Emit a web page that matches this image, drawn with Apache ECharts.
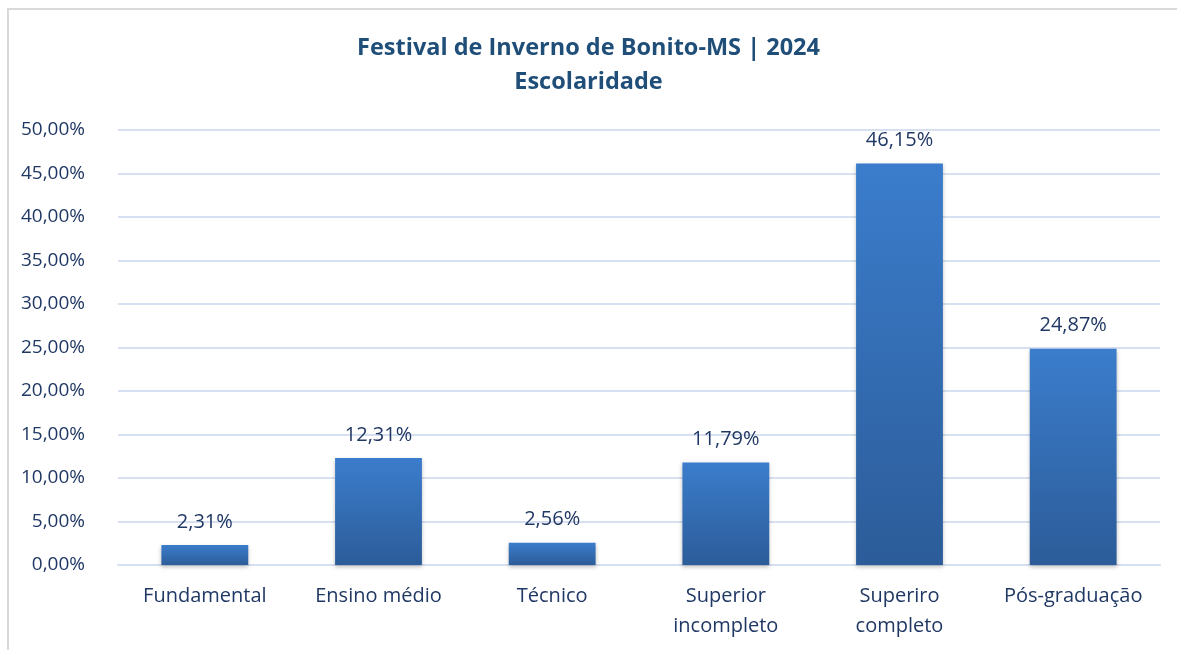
<!DOCTYPE html>
<html>
	<head>
		<meta charset="UTF-8">
		<title>Escolaridade</title>
		<script src="https://cdn.jsdelivr.net/npm/echarts@6/dist/echarts.min.js"></script>
		<style>
			html, body { margin: 0; padding: 0; background: #fff; overflow: hidden; }
			#main { position: absolute; left: 0; top: 0; width: 1177px; height: 650px; }
		</style>
	</head>
	<body>
		<div id="main"></div>
		<script type="text/javascript">

		var categorias = ['Fundamental', 'Ensino médio', 'Técnico', 'Superior\nincompleto', 'Superiro\ncompleto', 'Pós-graduação'];
		var percentuais = [2.31, 12.31, 2.56, 11.79, 46.15, 24.87];
		var tituloLinhas = ['Festival de Inverno de Bonito-MS | 2024', 'Escolaridade'];

		function fmt(v) {
			return v.toFixed(2).replace('.', ',') + '%';
		}

		var corTexto = '#203864';
		var fonte = '"Open Sans", "Noto Sans", sans-serif';

		var myChart = echarts.init(document.getElementById('main'));
		var option = {
			backgroundColor: '#fff',
			textStyle: { fontFamily: fonte },
			// moldura do grafico (so borda esquerda e superior aparecem)
			graphic: [{
				type: 'polyline',
				silent: true,
				shape: { points: [[8, 650], [8, 9], [1177, 9]] },
				style: { stroke: '#d9d9d9', lineWidth: 2, fill: null }
			}],
			title: {
				text: tituloLinhas.join('\n'),
				left: 'center',
				top: 26,
				textStyle: {
					color: '#1F4E79',
					fontSize: 23.5,
					fontWeight: 'bold',
					lineHeight: 34,
					fontFamily: fonte
				}
			},
			grid: {
				left: 118,
				right: 17,
				top: 130,
				bottom: 85,
				containLabel: false
			},
			xAxis: {
				type: 'category',
				data: categorias,
				axisLine: { show: true, lineStyle: { color: '#D6E0F0', width: 2 } },
				axisTick: { show: false },
				axisLabel: {
					interval: 0,
					color: corTexto,
					fontSize: 20,
					lineHeight: 30,
					margin: 16,
					fontFamily: fonte
				}
			},
			yAxis: {
				type: 'value',
				min: 0,
				max: 50,
				interval: 5,
				axisLine: { show: false },
				axisTick: { show: false },
				splitLine: { lineStyle: { color: '#D6E0F0', width: 2 } },
				axisLabel: {
					color: corTexto,
					fontSize: 19,
					margin: 33,
					fontFamily: fonte,
					formatter: function (v) { return fmt(v); }
				}
			},
			series: [{
				type: 'bar',
				data: percentuais,
				barWidth: '50%',
				itemStyle: {
					color: new echarts.graphic.LinearGradient(0, 0, 0, 1, [
						{ offset: 0, color: '#3B7DCC' },
						{ offset: 1, color: '#2C5C99' }
					]),
					shadowColor: 'rgba(0,0,0,0.25)',
					shadowBlur: 4,
					shadowOffsetY: 2
				},
				label: {
					show: true,
					position: 'top',
					distance: 13,
					color: corTexto,
					fontSize: 20,
					fontFamily: fonte,
					formatter: function (p) { return fmt(p.value); }
				}
			}]
		};
		myChart.setOption(option);

	</script>

	</body>
</html>
